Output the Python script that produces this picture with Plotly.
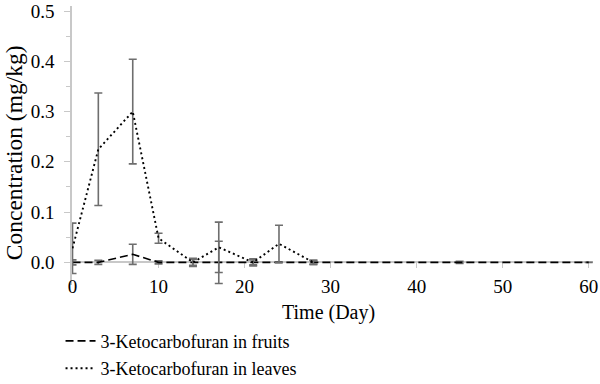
import plotly.graph_objects as go

days_fruits = [0, 3, 7, 10, 14, 17, 21, 24, 28, 45, 60]
fruits = [0.0, 0.0, 0.016, 0.0, 0.0, 0.0, 0.0, 0.0, 0.0, 0.0, 0.0]
fruits_err = [0.005, 0.004, 0.02, 0.003, 0.006, 0.042, 0.005, 0.0, 0.004, 0.002, 0.0]

days_leaves = [0, 3, 7, 10, 14, 17, 21, 24, 28]
leaves = [0.028, 0.225, 0.30, 0.048, 0.0, 0.03, 0.0, 0.037, 0.0]
leaves_err = [0.05, 0.112, 0.104, 0.01, 0.008, 0.05, 0.007, 0.037, 0.004]

y_ticks = [0.0, 0.1, 0.2, 0.3, 0.4, 0.5]
y_tick_text = ["0.0", "0.1", "0.2", "0.3", "0.4", "0.5"]
x_ticks = [0, 10, 20, 30, 40, 50, 60]

FONT = "Liberation Serif"
ERR_COLOR = "#6e6e6e"
AXIS_COLOR = "#c8c8c8"

fig = go.Figure()
fig.add_trace(go.Scatter(
    x=days_fruits, y=fruits, mode="lines",
    name="3-Ketocarbofuran in fruits", legendgroup="f",
    line=dict(color="black", width=1.6, dash="8px,4px"),
    error_y=dict(type="data", array=fruits_err, visible=True,
                 color=ERR_COLOR, thickness=1.6, width=4),
))
fig.add_trace(go.Scatter(
    x=days_leaves, y=leaves, mode="lines",
    name="3-Ketocarbofuran in leaves", legendgroup="l",
    line=dict(color="black", width=1.9, dash="2px,3px"),
    error_y=dict(type="data", array=leaves_err, visible=True,
                 color=ERR_COLOR, thickness=1.6, width=4),
))

y_lo, y_hi = -0.045, 0.51
zero_pos = (0 - y_lo) / (y_hi - y_lo)

fig.update_layout(
    width=600, height=384,
    margin=dict(l=72, r=7, t=6, b=99, autoexpand=False),
    paper_bgcolor="white", plot_bgcolor="white",
    font=dict(family=FONT, size=18, color="black"),
    showlegend=True,
    legend=dict(
        orientation="v",
        x=-0.022, y=-0.135, xanchor="left", yanchor="top",
        font=dict(family=FONT, size=18, color="black"),
        bgcolor="rgba(0,0,0,0)", tracegroupgap=1, itemwidth=30,
    ),
    xaxis=dict(
        range=[-0.06, 60.5],
        tickvals=x_ticks,
        showgrid=False, zeroline=False, automargin=False,
        showline=True, linecolor=AXIS_COLOR, linewidth=1.5,
        ticks="outside", ticklen=5, tickcolor=AXIS_COLOR, tickwidth=1,
        ticklabelstandoff=2,
        anchor="free", position=zero_pos, layer="below traces",
        tickfont=dict(family=FONT, size=19),
    ),
    yaxis=dict(
        range=[y_lo, y_hi],
        tickvals=y_ticks, ticktext=y_tick_text,
        showgrid=False, zeroline=False, automargin=False,
        showline=True, linecolor=AXIS_COLOR, linewidth=1.5,
        ticks="outside", ticklen=6, tickcolor=AXIS_COLOR, tickwidth=1,
        ticklabelstandoff=6, layer="below traces",
        minor=dict(dtick=0.05, tick0=0, ticks="outside", ticklen=4, tickcolor=AXIS_COLOR),
        tickfont=dict(family=FONT, size=19),
    ),
    annotations=[
        dict(text="Concentration (mg/kg)", xref="paper", yref="paper",
             x=-0.11, y=0.475, textangle=-90, showarrow=False,
             xanchor="center", yanchor="middle",
             font=dict(family=FONT, size=23.5, color="black")),
        dict(text="Time (Day)", xref="paper", yref="paper",
             x=0.493, y=-0.1, showarrow=False,
             xanchor="center", yanchor="middle",
             font=dict(family=FONT, size=20, color="black")),
    ],
)

fig.write_html("out.html", config={"displayModeBar": False},
               post_script="document.body.style.margin='0';")
